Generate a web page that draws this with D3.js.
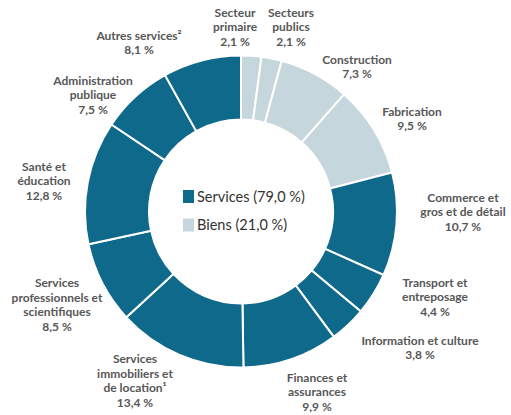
<!DOCTYPE html>
<html>
<head>
<meta charset="utf-8">
<script src="https://cdn.jsdelivr.net/npm/d3@7"></script>
<style>
  body { margin: 0; background: #fff; }
  .lbl { font-family: Lato, "Open Sans", sans-serif; font-weight: 700; font-size: 12px; fill: #575757; }
  .legend text { font-family: Lato, "Open Sans", sans-serif; font-size: 14.5px; fill: #333; }
</style>
</head>
<body>
<svg id="chart"></svg>
<script>
// sectors, clockwise from the top
const sectors = [
  "Secteur primaire", "Secteurs publics", "Construction", "Fabrication",
  "Commerce de gros et de détail", "Transport et entreposage", "Information et culture",
  "Finances et assurances", "Services immobiliers et de location", "Services professionnels et scientifiques",
  "Santé et éducation", "Administration publique", "Autres services"
];
const shares = [2.1, 2.1, 7.3, 9.5, 10.7, 4.4, 3.8, 9.9, 13.4, 8.5, 12.8, 7.5, 8.1];
const groupOf = ["Biens", "Biens", "Biens", "Biens",
  "Services", "Services", "Services", "Services", "Services", "Services", "Services", "Services", "Services"];
const labelLines = [
  ["Secteur", "primaire", "2,1 %"],
  ["Secteurs", "publics", "2,1 %"],
  ["Construction", "7,3 %"],
  ["Fabrication", "9,5 %"],
  ["Commerce et", "gros et de détail", "10,7 %"],
  ["Transport et", "entreposage", "4,4 %"],
  ["Information et culture", "3,8 %"],
  ["Finances et", "assurances", "9,9 %"],
  ["Services", "immobiliers et", "de location¹", "13,4 %"],
  ["Services", "professionnels et", "scientifiques", "8,5 %"],
  ["Santé et", "éducation", "12,8 %"],
  ["Administration", "publique", "7,5 %"],
  ["Autres services²", "8,1 %"]
];
const groups = ["Services", "Biens"];
const groupTotals = ["79,0 %", "21,0 %"];

// label block centres, placed by hand around the ring
const labelAt = [
  [235, 27], [291, 27], [357, 67], [412, 119], [463, 212], [435, 297], [420, 348],
  [317, 392], [135, 381], [57, 305], [44, 181], [93, 95], [139, 43]
];

const width = 511, height = 415;
const cx = 241, cy = 211.5, outerR = 156, innerR = 92;

const svg = d3.select("#chart").attr("width", width).attr("height", height);

const color = d3.scaleOrdinal().domain(groups).range(["#0f698b", "#c6d6dd"]);

const data = sectors.map((s, i) => ({ name: s, value: shares[i], group: groupOf[i], lines: labelLines[i], pos: labelAt[i] }));

const pie = d3.pie().value(d => d.value).sort(null);
const arc = d3.arc().innerRadius(innerR).outerRadius(outerR);

const ring = svg.append("g").attr("transform", `translate(${cx},${cy})`);
ring.selectAll("path")
  .data(pie(data))
  .join("path")
  .attr("d", arc)
  .attr("fill", d => color(d.data.group))
  .attr("stroke", "#fff")
  .attr("stroke-width", 2);

// labels
const lh = 14.5;
const lbl = svg.append("g").selectAll("text")
  .data(data)
  .join("text")
  .attr("class", "lbl")
  .attr("text-anchor", "middle")
  .attr("x", d => d.pos[0])
  .attr("y", d => d.pos[1] - (d.lines.length - 1) * lh / 2 + 4);
lbl.selectAll("tspan")
  .data(d => d.lines.map(l => ({ l, x: d.pos[0] })))
  .join("tspan")
  .attr("x", d => d.x)
  .attr("dy", (d, i) => i ? lh : 0)
  .text(d => d.l);

// legend in the hole
const legend = svg.append("g").attr("class", "legend").attr("transform", "translate(183,190)");
const item = legend.selectAll("g")
  .data(groups)
  .join("g")
  .attr("transform", (d, i) => `translate(0,${i * 28.5})`);
item.append("rect").attr("width", 11).attr("height", 13).attr("fill", d => color(d));
item.append("text").attr("x", 14).attr("y", 11.5).text((d, i) => `${d} (${groupTotals[i]})`);
</script>
</body>
</html>
